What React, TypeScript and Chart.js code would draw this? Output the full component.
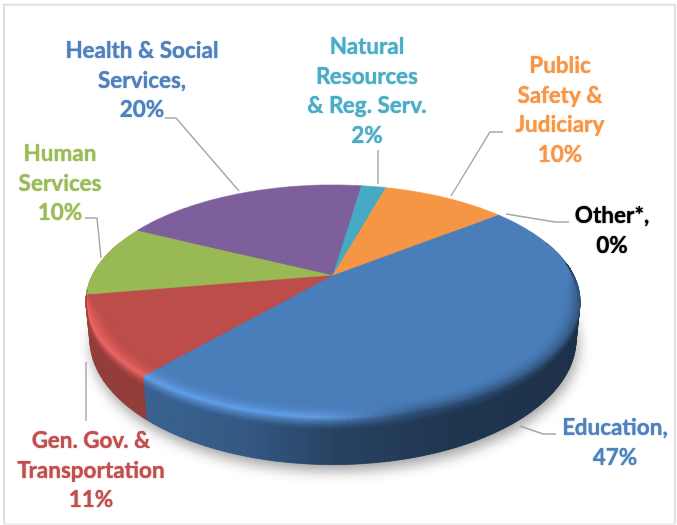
import React, { useEffect, useRef } from "react";
import { Chart, registerables } from "chart.js";

Chart.register(...registerables);

const categories = [
  "Education",
  "Gen. Gov. & Transportation",
  "Human Services",
  "Health & Social Services",
  "Natural Resources & Reg. Serv.",
  "Public Safety & Judiciary",
  "Other*",
];
const shares = [47, 11, 10, 20, 2, 10, 0];
const sliceColors = ["#4a7ebb", "#bd4d4a", "#98b954", "#7d5f9c", "#46aac5", "#f59645", "#000000"];
const labelLines = [
  ["Education,", "47%"],
  ["Gen. Gov. &", "Transportation", "11%"],
  ["Human", "Services", "10%"],
  ["Health & Social", "Services,", "20%"],
  ["Natural", "Resources", "& Reg. Serv.", "2%"],
  ["Public", "Safety &", "Judiciary", "10%"],
  ["Other*,", "0%"],
];
const labelColors = ["#4f81bd", "#c0504d", "#9bbb59", "#4f81bd", "#4bacc6", "#f79646", "#000000"];

// Layout of the label blocks and their leader lines (canvas pixels).
const labelCentres = [
  [615, 428], [91, 441], [60, 154], [142, 51], [367, 47], [560, 66], [612, 216],
];
const leaderLines = [
  [[556, 434], [543, 434], [520, 426]],
  [[86, 421], [86, 362]],
  [[85, 218], [97, 218], [101, 258]],
  [[165, 118], [176, 118], [239, 191]],
  [[378, 150], [378, 184]],
  [[503, 132], [490, 132], [451, 196]],
  [[569, 222], [555, 222], [506, 214]],
];

// Projection of the tilted disc.
const CX = 333, CY = 275, RX = 240.5, RY = 110.5, K = 0.2275, DEPTH = 36;

function project(a: number, s: number, f: number): [number, number] {
  const u = s * Math.cos(a), v = s * Math.sin(a), w = 1 - K * v;
  return [CX + (RX * u / w) * (1 - 0.016 * f), CY + (RY * v) / w + (f * DEPTH) / w];
}

type RGB = [number, number, number];
const hex = (c: string): RGB => [parseInt(c.slice(1, 3), 16), parseInt(c.slice(3, 5), 16), parseInt(c.slice(5, 7), 16)];
const mix = (a: RGB, b: RGB, t: number): RGB => [a[0] + (b[0] - a[0]) * t, a[1] + (b[1] - a[1]) * t, a[2] + (b[2] - a[2]) * t];
const css = (c: RGB) => `rgb(${c.map((x) => Math.max(0, Math.min(255, Math.round(x)))).join(",")})`;
const clamp = (t: number) => Math.max(0, Math.min(1, t));
const smooth = (t: number) => { const x = clamp(t); return x * x * (3 - 2 * x); };

const sideStops: [number, number][] = [[86, 0.8], [147, 0.78], [250, 0.7], [340, 0.52], [450, 0.43], [580, 0.39]];
function sideFactor(x: number): number {
  if (x <= sideStops[0][0]) return sideStops[0][1];
  for (let i = 1; i < sideStops.length; i++) {
    if (x <= sideStops[i][0]) {
      const [x0, y0] = sideStops[i - 1], [x1, y1] = sideStops[i];
      return y0 + ((y1 - y0) * (x - x0)) / (x1 - x0);
    }
  }
  return sideStops[sideStops.length - 1][1];
}
const sideColor = (face: RGB, x: number): RGB => face.map((c) => c * sideFactor(x)) as RGB;

function poly(ctx: CanvasRenderingContext2D, pts: [number, number][], color: string) {
  ctx.beginPath();
  pts.forEach((p, i) => (i ? ctx.lineTo(p[0], p[1]) : ctx.moveTo(p[0], p[1])));
  ctx.closePath();
  ctx.fillStyle = color;
  ctx.strokeStyle = color;
  ctx.lineWidth = 0.6;
  ctx.fill();
  ctx.stroke();
}

const STEP = Math.PI / 150;
function angleSteps(a0: number, a1: number): number[] {
  const n = Math.max(1, Math.ceil((a1 - a0) / STEP));
  const out: number[] = [];
  for (let i = 0; i <= n; i++) out.push(a0 + ((a1 - a0) * i) / n);
  return out;
}

const tiltedPie = {
  id: "tiltedPie",
  beforeDraw(chart: any) {
    const ctx: CanvasRenderingContext2D = chart.ctx;
    ctx.save();
    ctx.fillStyle = "#ffffff";
    ctx.fillRect(0, 0, chart.width, chart.height);
    ctx.lineWidth = 1.8;
    ctx.strokeStyle = "#eeeeee";
    ctx.beginPath();
    ctx.moveTo(4, 524);
    ctx.lineTo(675, 524);
    ctx.stroke();
    ctx.strokeStyle = "#dcdcdc";
    ctx.beginPath();
    ctx.moveTo(4, 524);
    ctx.lineTo(4, 4.6);
    ctx.lineTo(675, 4.6);
    ctx.lineTo(675, 524);
    ctx.stroke();
    ctx.restore();
  },
  beforeDatasetsDraw(chart: any) {
    const ctx: CanvasRenderingContext2D = chart.ctx;
    const arcs = chart.getDatasetMeta(0).data.filter((e: any) => e.endAngle - e.startAngle > 1e-4);
    ctx.save();

    // soft shadow under the disc
    ctx.save();
    ctx.shadowColor = "rgba(0,0,0,0.38)";
    ctx.shadowBlur = 14;
    ctx.shadowOffsetY = 6;
    ctx.shadowOffsetX = 2;
    ctx.beginPath();
    angleSteps(0, Math.PI * 2).forEach((a, i) => {
      const p = project(a, 1, 1);
      if (i) ctx.lineTo(p[0], p[1]); else ctx.moveTo(p[0], p[1]);
    });
    ctx.closePath();
    ctx.fillStyle = "#555555";
    ctx.fill();
    ctx.restore();

    // side wall
    arcs.forEach((arc: any) => {
      const face = hex(arc.options.backgroundColor);
      const as = angleSteps(arc.startAngle, arc.endAngle);
      for (let i = 0; i < as.length - 1; i++) {
        const a = as[i], b = as[i + 1];
        if (Math.sin(a) < -0.3 && Math.sin(b) < -0.3) continue;
        const q = [project(a, 1, 0), project(b, 1, 0), project(b, 1, 1), project(a, 1, 1)] as [number, number][];
        poly(ctx, q, css(sideColor(face, q[0][0])));
      }
    });

    // top face
    arcs.forEach((arc: any) => {
      const pts: [number, number][] = [[CX, CY]];
      angleSteps(arc.startAngle, arc.endAngle).forEach((a) => pts.push(project(a, 1, 0)));
      poly(ctx, pts, arc.options.backgroundColor);
    });

    // rounded bevel along the front of the rim
    const BANDS = 14;
    arcs.forEach((arc: any) => {
      const face = hex(arc.options.backgroundColor);
      const as = angleSteps(arc.startAngle, arc.endAngle);
      for (let i = 0; i < as.length - 1; i++) {
        const a = as[i], b = as[i + 1];
        const mid = (a + b) / 2;
        const sinM = Math.sin(mid);
        const reach = Math.cos(mid) < 0 ? smooth((sinM - 0.1) / 0.3) : smooth((sinM + 0.12) / 0.35);
        if (reach <= 0.01) continue;
        const px = project(mid, 1, 0)[0];
        const lit = smooth((430 - px) / 130);
        const side = sideColor(face, px);
        const bright = mix(face.map((c) => c * 1.25) as RGB, [255, 255, 255], 0.05);
        const peak = mix(mix(face, side, 0.55), bright, lit);
        for (let j = 0; j < BANDS; j++) {
          const t0 = -1 + (2 * j) / BANDS, t1 = -1 + (2 * (j + 1)) / BANDS;
          const tm = (t0 + t1) / 2;
          const pos = (t: number): [number, number] => (t < 0 ? [1 + 0.075 * reach * t, 0] : [1, 0.24 * reach * t]);
          const [s0, f0] = pos(t0), [s1, f1] = pos(t1);
          const col = tm < 0
            ? mix(face, peak, Math.pow(tm + 1, 2))
            : mix(peak, side, Math.pow(tm, 0.7));
          poly(ctx, [project(a, s0, f0), project(b, s0, f0), project(b, s1, f1), project(a, s1, f1)], css(col));
        }
      }
    });

    ctx.restore();
    return false;
  },
  afterDraw(chart: any) {
    const ctx: CanvasRenderingContext2D = chart.ctx;
    ctx.save();
    ctx.strokeStyle = "#a6a6a6";
    ctx.lineWidth = 1.4;
    leaderLines.forEach((line) => {
      ctx.beginPath();
      line.forEach((p, i) => (i ? ctx.lineTo(p[0], p[1]) : ctx.moveTo(p[0], p[1])));
      ctx.stroke();
    });
    ctx.font = "bold 22.5px Lato";
    ctx.textAlign = "center";
    ctx.textBaseline = "middle";
    labelLines.forEach((lines, i) => {
      ctx.fillStyle = labelColors[i];
      ctx.shadowColor = labelColors[i];
      ctx.shadowBlur = 1.2;
      lines.forEach((text, j) => {
        ctx.fillText(text, labelCentres[i][0], labelCentres[i][1] + j * 29.5);
      });
    });
    ctx.restore();
  },
};

export default function App() {
  const ref = useRef<HTMLCanvasElement>(null);
  useEffect(() => {
    const chart = new Chart(ref.current as HTMLCanvasElement, {
      type: "pie",
      data: {
        labels: categories,
        datasets: [{ data: shares, backgroundColor: sliceColors, borderWidth: 0 }],
      },
      options: {
        animation: false,
        responsive: false,
        rotation: 51.6,
        plugins: { legend: { display: false }, tooltip: { enabled: false }, title: { display: false } },
      },
      plugins: [tiltedPie],
    } as any);
    return () => chart.destroy();
  }, []);
  return (
    <div style={{ position: "absolute", left: 0, top: 0, width: 677, height: 525 }}>
      <canvas ref={ref} width={677} height={525} style={{ display: "block", width: 677, height: 525 }} />
    </div>
  );
}
